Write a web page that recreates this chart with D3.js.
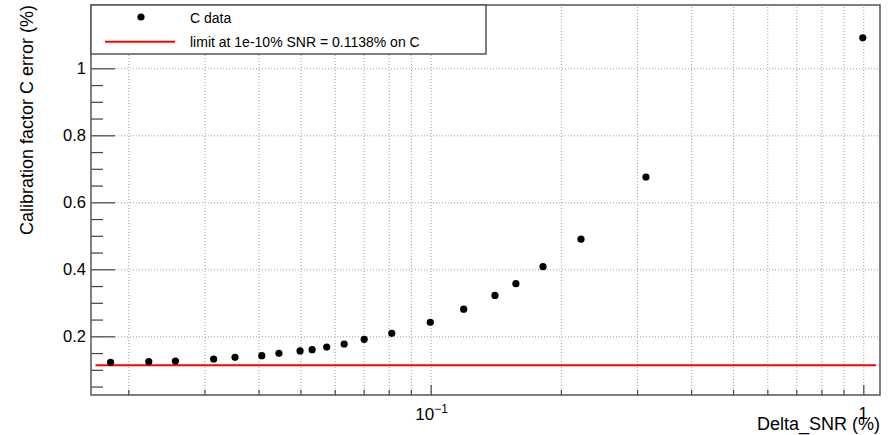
<!DOCTYPE html>
<html>
<head>
<meta charset="utf-8">
<script src="https://cdn.jsdelivr.net/npm/d3@7"></script>
<style>
  body { margin: 0; background: #fff; }
  svg { display: block; font-family: "Liberation Sans", Arial, Helvetica, sans-serif; }
</style>
</head>
<body>
<div id="chart"></div>
<script>
//=====================================================
// data
var deltaSNR = [0.0182, 0.0223, 0.0257, 0.0315, 0.0353, 0.0407, 0.0446, 0.0499, 0.0532, 0.0575,
                0.0631, 0.0702, 0.0813, 0.0998, 0.1192, 0.1408, 0.1574, 0.1818, 0.2226, 0.3145, 0.997];
var calibError = [0.1224, 0.1242, 0.1263, 0.1322, 0.1373, 0.1421, 0.1493, 0.1563, 0.160, 0.168,
                  0.177, 0.191, 0.209, 0.242, 0.281, 0.322, 0.357, 0.408, 0.490, 0.6755, 1.091];
var limitValue = 0.1138;
var limitRange = [0.0168, 1.07];
var xDomain = [0.0164, 1.093];
var yDomain = [0.0248, 1.189];
var yMajorTicks = [0.2, 0.4, 0.6, 0.8, 1];
var yMinorTicks = [0.05, 0.1, 0.15, 0.25, 0.3, 0.35, 0.45, 0.5, 0.55, 0.65, 0.7, 0.75, 0.85, 0.9, 0.95, 1.05, 1.1, 1.15];
var xMajorTicks = [0.1, 1];
var xMinorTicks = [0.02, 0.03, 0.04, 0.05, 0.06, 0.07, 0.08, 0.09, 0.2, 0.3, 0.4, 0.5, 0.6, 0.7, 0.8, 0.9];
var legendLabels = ["C data", "limit at 1e-10% SNR = 0.1138% on C"];
var xTitle = "Delta_SNR (%)";
var yTitle = "Calibration factor C error (%)";

//=====================================================
var width = 891, height = 435;
var padL = 91, padR = 880, padT = 5, padB = 395;
var axisColor = "#555";

var svg = d3.select("#chart").append("svg")
  .attr("width", width)
  .attr("height", height);

var x = d3.scaleLog().domain(xDomain).range([padL, padR]);
var y = d3.scaleLinear().domain(yDomain).range([padB, padT]);

// grid
var grid = svg.append("g").attr("class", "grid");
grid.append("g")
  .attr("transform", "translate(0," + padB + ")")
  .call(d3.axisBottom(x).tickValues(xMinorTicks.concat(xMajorTicks)).tickSize(-(padB - padT)).tickFormat(""));
grid.append("g")
  .attr("transform", "translate(" + padL + ",0)")
  .call(d3.axisLeft(y).tickValues(yMajorTicks).tickSize(-(padR - padL)).tickFormat(""));
grid.selectAll(".domain").remove();
grid.selectAll("line")
  .attr("stroke", "#a0a0a0")
  .attr("stroke-width", 1)
  .attr("stroke-dasharray", "1,2");

// limit line
svg.append("line")
  .attr("x1", x(limitRange[0])).attr("x2", x(limitRange[1]))
  .attr("y1", y(limitValue)).attr("y2", y(limitValue))
  .attr("stroke", "#f00")
  .attr("stroke-width", 2);

// points
svg.append("g").selectAll("circle")
  .data(d3.range(deltaSNR.length))
  .enter()
  .append("circle")
  .attr("cx", function(i) { return x(deltaSNR[i]); })
  .attr("cy", function(i) { return y(calibError[i]); })
  .attr("r", 3.6)
  .attr("fill", "#000");

// y axis ticks (pointing inward)
var yMinor = svg.append("g")
  .attr("transform", "translate(" + padL + ",0)")
  .call(d3.axisLeft(y).tickValues(yMinorTicks).tickSizeInner(-12).tickSizeOuter(0).tickFormat(""));
var yMajor = svg.append("g")
  .attr("transform", "translate(" + padL + ",0)")
  .call(d3.axisLeft(y).tickValues(yMajorTicks).tickSizeInner(-24).tickSizeOuter(0).tickPadding(5)
        .tickFormat(function(d) { return d === 1 ? "1" : d3.format(".1f")(d); }));

// x axis ticks (pointing inward)
var xMinor = svg.append("g")
  .attr("transform", "translate(0," + padB + ")")
  .call(d3.axisBottom(x).tickValues(xMinorTicks).tickSizeInner(-5).tickSizeOuter(0).tickFormat(""));
var xMajor = svg.append("g")
  .attr("transform", "translate(0," + padB + ")")
  .call(d3.axisBottom(x).tickValues(xMajorTicks).tickSizeInner(-10).tickSizeOuter(0).tickFormat(""));

[yMinor, yMajor, xMinor, xMajor].forEach(function(g) {
  g.select(".domain").remove();
  g.selectAll("line").attr("stroke", "#444").attr("stroke-width", 1.2);
});
yMajor.selectAll("text")
  .attr("font-size", 16.5)
  .attr("fill", "#000")
  .attr("font-family", "Liberation Sans, Arial, sans-serif");

// x labels: 10^-1 and 1
var lbl = svg.append("text")
  .attr("x", x(0.1) + 1)
  .attr("y", 420)
  .attr("text-anchor", "middle")
  .attr("font-size", 17);
lbl.append("tspan").text("10");
lbl.append("tspan").attr("font-size", 12).attr("dy", -7).text("\u22121");

svg.append("text")
  .attr("x", x(1))
  .attr("y", 419)
  .attr("text-anchor", "middle")
  .attr("font-size", 17)
  .text("1");

// frame
svg.append("rect")
  .attr("x", padL).attr("y", padT)
  .attr("width", padR - padL).attr("height", padB - padT)
  .attr("fill", "none")
  .attr("stroke", axisColor)
  .attr("stroke-width", 1.5);

// axis titles
svg.append("text")
  .attr("x", padR)
  .attr("y", 430)
  .attr("text-anchor", "end")
  .attr("font-size", 18)
  .text(xTitle);

svg.append("text")
  .attr("transform", "translate(33," + padT + ") rotate(-90)")
  .attr("text-anchor", "end")
  .attr("font-size", 18)
  .text(yTitle);

// legend
var legend = svg.append("g");
legend.append("rect")
  .attr("x", padL).attr("y", padT)
  .attr("width", 486 - padL).attr("height", 54 - padT)
  .attr("fill", "#fff")
  .attr("stroke", axisColor)
  .attr("stroke-width", 1.5);
legend.append("circle")
  .attr("cx", 141).attr("cy", 17)
  .attr("r", 3.6)
  .attr("fill", "#000");
legend.append("line")
  .attr("x1", 105).attr("x2", 175)
  .attr("y1", 41.7).attr("y2", 41.7)
  .attr("stroke", "#f00")
  .attr("stroke-width", 2);
legend.selectAll("text.leg")
  .data(legendLabels)
  .enter()
  .append("text")
  .attr("class", "leg")
  .attr("x", 190)
  .attr("y", function(d, i) { return i === 0 ? 22.5 : 47; })
  .attr("font-size", 14)
  .text(function(d) { return d; });
</script>
</body>
</html>
